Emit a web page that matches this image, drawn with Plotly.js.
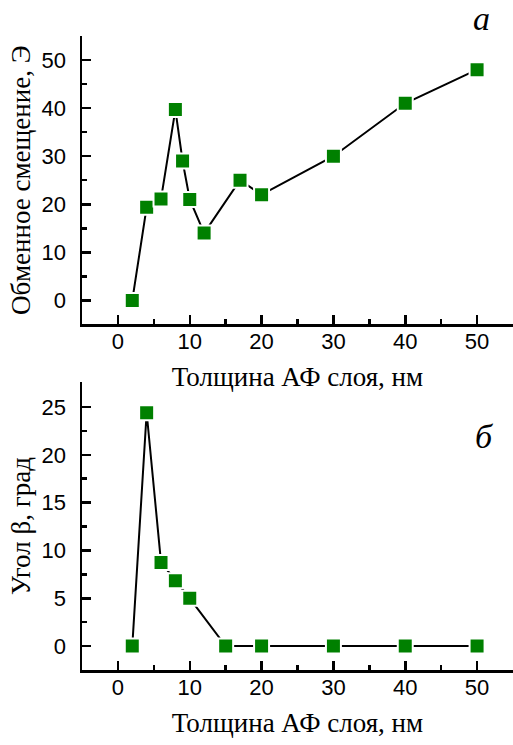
<!DOCTYPE html>
<html>
<head>
<meta charset="utf-8">
<script src="https://cdn.plot.ly/plotly-3.0.1.min.js"></script>
<style>html,body{margin:0;padding:0;background:#fff;}#chart{width:513px;height:745px;}</style>
</head>
<body>
<div id="chart"></div>
<script>
// Data
var thicknessTop = [2, 4, 6, 8, 9, 10, 12, 17, 20, 30, 40, 50];
var exchangeBias = [0, 19.4, 21.1, 39.7, 29.0, 21.0, 14.0, 25.0, 22.0, 30.0, 41.0, 48.0];
var thicknessBottom = [2, 4, 6, 8, 10, 15, 20, 30, 40, 50];
var angleBeta = [0, 24.4, 8.75, 6.84, 5.0, 0, 0, 0, 0, 0];
var xTickVals = [0, 10, 20, 30, 40, 50];
var yTopTickVals = [0, 10, 20, 30, 40, 50];
var yBottomTickVals = [0, 5, 10, 15, 20, 25];

var xTitle = 'Толщина АФ слоя, нм';
var yTopTitle = 'Обменное смещение, Э';
var yBottomTitle = 'Угол β, град';

var green = '#008000';
function tr(x, y, xa, ya) {
  return {
    x: x, y: y, xaxis: xa, yaxis: ya, type: 'scatter', mode: 'lines+markers',
    line: {color: '#000', width: 2},
    marker: {symbol: 'square', size: 15, color: green, line: {color: '#fff', width: 2}},
    showlegend: false, hoverinfo: 'x+y'
  };
}
var data = [
  tr(thicknessTop, exchangeBias, 'x', 'y'),
  tr(thicknessBottom, angleBeta, 'x2', 'y2')
];

var tickFont = {family: 'Liberation Sans, Arial, sans-serif', size: 22, color: '#000'};
var titleFont = {family: 'Liberation Serif, Times New Roman, serif', size: 27, color: '#000'};

function xaxis(anchor) {
  return {
    anchor: anchor, domain: [0, 1], range: [-5, 55],
    tickvals: xTickVals, ticks: 'inside', ticklen: 9, tickwidth: 2.5, tickcolor: '#000',
    minor: {dtick: 5, tick0: 0, ticks: 'inside', ticklen: 5, tickwidth: 2.5, tickcolor: '#000', showgrid: false},
    showline: true, linewidth: 2.5, linecolor: '#000', mirror: false,
    showgrid: false, zeroline: false, tickfont: tickFont,
    ticklabelstandoff: -4,
    title: {text: xTitle, font: titleFont, standoff: 14}
  };
}
function yaxis(anchor, domain, range, tv, minorStep, title) {
  return {
    anchor: anchor, domain: domain, range: range,
    tickvals: tv, ticks: 'inside', ticklen: 9, tickwidth: 2.5, tickcolor: '#000',
    minor: {dtick: minorStep, tick0: 0, ticks: 'inside', ticklen: 5, tickwidth: 2.5, tickcolor: '#000', showgrid: false},
    showline: true, linewidth: 2.5, linecolor: '#000', mirror: false,
    showgrid: false, zeroline: false, tickfont: tickFont,
    ticklabelstandoff: 9,
    title: {text: title, font: titleFont, standoff: 3}
  };
}

var layout = {
  width: 513, height: 745,
  margin: {l: 82, r: 0, t: 36, b: 75},
  paper_bgcolor: '#fff', plot_bgcolor: '#fff',
  xaxis: xaxis('y'),
  yaxis: yaxis('x', [0.545, 1], [-5, 55], yTopTickVals, 5, yTopTitle),
  xaxis2: xaxis('y2'),
  yaxis2: yaxis('x2', [0, 0.454], [-2.5, 27.6], yBottomTickVals, 2.5, yBottomTitle),
  annotations: [
    {text: 'а', xref: 'paper', yref: 'paper', x: 0.926, y: 1.0568, xanchor: 'center', yanchor: 'top', yshift: 2, showarrow: false,
     font: {family: 'Liberation Serif, Times New Roman, serif', size: 34, color: '#000', style: 'italic'}},
    {text: 'б', xref: 'paper', yref: 'paper', x: 0.933, y: 0.369, xanchor: 'center', yanchor: 'middle', showarrow: false,
     font: {family: 'Liberation Serif, Times New Roman, serif', size: 34, color: '#000', style: 'italic'}}
  ]
};

Plotly.newPlot('chart', data, layout, {staticPlot: true});
</script>
</body>
</html>
